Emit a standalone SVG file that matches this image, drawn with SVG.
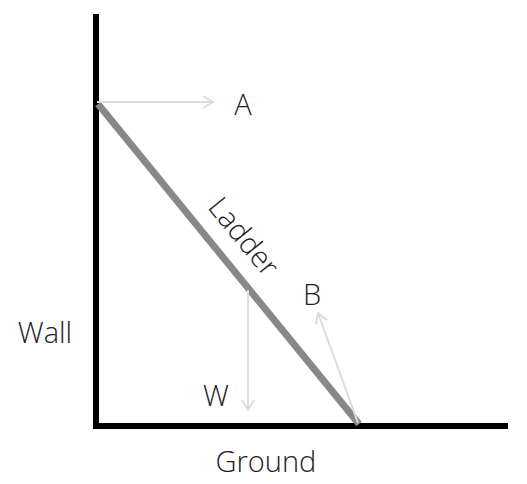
<svg xmlns="http://www.w3.org/2000/svg" width="527" height="484" viewBox="0 0 527 484">
<style>
text{font-family:"Open Sans","Liberation Sans",sans-serif;font-weight:300;fill:#222;font-size:29px}
.wall{stroke:#000;stroke-width:6;fill:none}
.force{stroke:#dcdcdc;stroke-width:2;fill:none;marker-end:url(#ah)}
</style>
<defs>
<marker id="ah" markerWidth="14" markerHeight="14" refX="12" refY="7" orient="auto" markerUnits="userSpaceOnUse">
<path d="M2,1 L12,7 L2,13" fill="none" stroke="#dcdcdc" stroke-width="2"/>
</marker>
</defs>
<g id="wall"><line class="wall" x1="96" y1="14" x2="96" y2="429"/><text x="45" y="343" text-anchor="middle">Wall</text></g>
<g id="ground"><line class="wall" x1="93" y1="426" x2="508" y2="426"/><text x="266" y="472" text-anchor="middle">Ground</text></g>
<g id="ladder"><line x1="98" y1="104" x2="359" y2="424" stroke="#888" stroke-width="7"/><text transform="translate(236,243) rotate(50.7)" text-anchor="middle" y="0">Ladder</text></g>
<g id="connectors">
<line class="force" x1="97" y1="102" x2="213" y2="102"/>
<line class="force" x1="248" y1="290" x2="248" y2="410"/>
<line class="force" x1="358" y1="423" x2="318" y2="313"/>
</g>
<g id="labelA"><text x="243" y="115" text-anchor="middle">A</text></g>
<g id="labelB"><text x="312" y="305" text-anchor="middle">B</text></g>
<g id="labelW"><text x="216" y="406" text-anchor="middle">W</text></g>
</svg>
